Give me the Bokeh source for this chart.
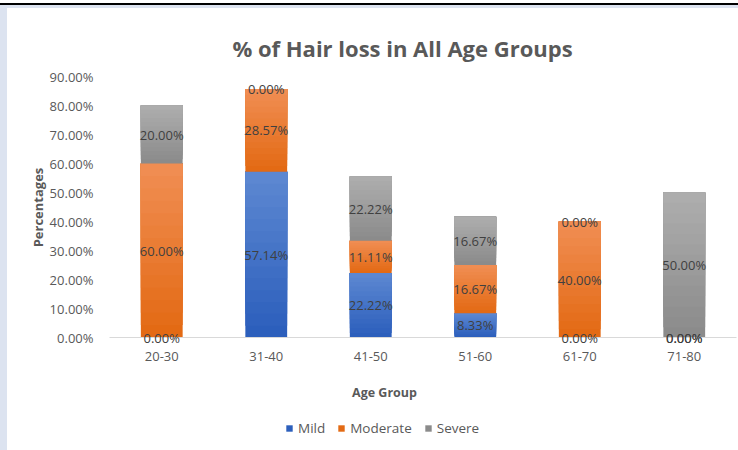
import numpy as np
from bokeh.plotting import figure
from bokeh.models import (ColumnDataSource, LabelSet, Label, Legend, LegendItem,
                          Range1d, FixedTicker, LinearAxis)
from bokeh.core.properties import value
from bokeh.embed import file_html
from bokeh.resources import INLINE

# ---- data ----
categories = ["20-30", "31-40", "41-50", "51-60", "61-70", "71-80"]
series_names = ["Mild", "Moderate", "Severe"]
mild = [0.0, 57.14, 22.22, 8.33, 0.0, 0.0]
moderate = [60.0, 28.57, 11.11, 16.67, 40.0, 0.0]
severe = [20.0, 0.0, 22.22, 16.67, 0.0, 50.0]
y_ticks = [0, 10, 20, 30, 40, 50, 60, 70, 80, 90]
y_tick_labels = ["0.00%", "10.00%", "20.00%", "30.00%", "40.00%", "50.00%",
                 "60.00%", "70.00%", "80.00%", "90.00%"]

title_text = "% of Hair loss in All Age Groups"
x_title = "Age Group"
y_title = "Percentages"

# ---- styles ----
FONT = "Open Sans"
TXT = "#595959"
grad = {
    "Mild": ("#2c5fbc", "#5c87d1"),
    "Moderate": ("#e36a14", "#f08d52"),
    "Severe": ("#8b8b8b", "#adadad"),
}


def mix(c1, c2, t):
    a = [int(c1[i:i + 2], 16) for i in (1, 3, 5)]
    b = [int(c2[i:i + 2], 16) for i in (1, 3, 5)]
    return "#%02x%02x%02x" % tuple(int(round(a[j] + (b[j] - a[j]) * t)) for j in range(3))


W, H = 738, 450
PX_X = 104.5   # pixels per category
PX_Y = 2.9     # pixels per percent
X0_PX, Y0_PX = 109, 337  # pixel position of the data origin
ncat = len(categories)
x_range = Range1d(-X0_PX / PX_X, (W - X0_PX) / PX_X)
y_range = Range1d(-(H - Y0_PX) / PX_Y, Y0_PX / PX_Y)

p = figure(width=W, height=H, output_backend="svg", toolbar_location=None,
           x_range=x_range, y_range=y_range, x_axis_location=None, y_axis_location=None,
           min_border=0)
p.border_fill_color = None
p.background_fill_color = None
p.outline_line_color = None
p.styles = {
    "background": "linear-gradient(#000,#000) 0 3px / 100% 2px no-repeat, "
                  "linear-gradient(#dce3f0,#dce3f0) 0 5px / 100% 3px no-repeat, "
                  "linear-gradient(#dce3f0,#dce3f0) 0 5px / 7px 100% no-repeat, #ffffff"
}
p.grid.visible = False

xs = np.arange(ncat) + 0.5
series_vals = [mild, moderate, severe]

base = np.zeros(ncat)
label_x, label_y, label_t = [], [], []
legend_renderers = {}
N = 14
for name, vals in zip(series_names, series_vals):
    v = np.array(vals)
    c_bot, c_top = grad[name]
    first = None
    for k in range(N):
        t = k / (N - 1)
        src = ColumnDataSource(dict(x=xs, bottom=base + v * k / N, top=base + v))
        r = p.vbar(x="x", bottom="bottom", top="top", width=0.4, source=src,
                   fill_color=mix(c_bot, c_top, t), line_color=None)
        if first is None:
            first = r
    legend_renderers[name] = first
    for i in range(ncat):
        label_x.append(xs[i])
        label_y.append(base[i] + v[i] / 2)
        label_t.append("%.2f%%" % v[i])
    base = base + v

# axes fixed at the data origin
yaxis = LinearAxis(fixed_location=0, ticker=FixedTicker(ticks=y_ticks),
                   major_label_overrides={t: l for t, l in zip(y_ticks, y_tick_labels)},
                   axis_line_color=None, major_tick_line_color=None,
                   minor_tick_line_color=None, major_label_standoff=10,
                   major_label_text_font=FONT, major_label_text_font_size="13px",
                   major_label_text_color=TXT)
p.add_layout(yaxis, "left")

xaxis = LinearAxis(fixed_location=0, ticker=FixedTicker(ticks=list(xs)),
                   major_label_overrides={float(x): c for x, c in zip(xs, categories)},
                   bounds=(0, ncat), axis_line_color="#d9d9d9", axis_line_width=1,
                   major_tick_line_color=None, minor_tick_line_color=None,
                   major_label_standoff=8, major_label_text_font=FONT,
                   major_label_text_font_size="13px", major_label_text_color=TXT)
p.add_layout(xaxis, "below")

lab_src = ColumnDataSource(dict(x=label_x, y=label_y, t=label_t))
p.add_layout(LabelSet(x="x", y="y", text="t", source=lab_src, text_align="center",
                      text_baseline="middle", text_font=value(FONT),
                      text_font_size="13px", text_color="#404040"))

# titles
p.add_layout(Label(x=(402 - X0_PX) / PX_X, y=(Y0_PX - 47) / PX_Y, text=title_text,
                   text_align="center", text_baseline="middle", text_font=FONT,
                   text_font_style="bold", text_font_size="22px", text_color=TXT))
p.add_layout(Label(x=(384 - X0_PX) / PX_X, y=(Y0_PX - 392) / PX_Y, text=x_title,
                   text_align="center", text_baseline="middle", text_font=FONT,
                   text_font_style="bold", text_font_size="12.5px", text_color=TXT))
p.add_layout(Label(x=(37 - X0_PX) / PX_X, y=(Y0_PX - 207) / PX_Y, text=y_title,
                   angle=np.pi / 2, text_align="center", text_baseline="middle",
                   text_font=FONT, text_font_style="bold", text_font_size="13px",
                   text_color=TXT))

legend = Legend(items=[LegendItem(label=n, renderers=[legend_renderers[n]]) for n in series_names],
                orientation="horizontal", location=(285, 12), padding=0, margin=0,
                spacing=12, label_standoff=5, glyph_width=8, glyph_height=8,
                label_height=20, border_line_color=None, background_fill_alpha=0,
                label_text_font=FONT, label_text_font_size="13.5px", label_text_color=TXT)
p.add_layout(legend)

open("out.html", "w").write(file_html(p, INLINE))
